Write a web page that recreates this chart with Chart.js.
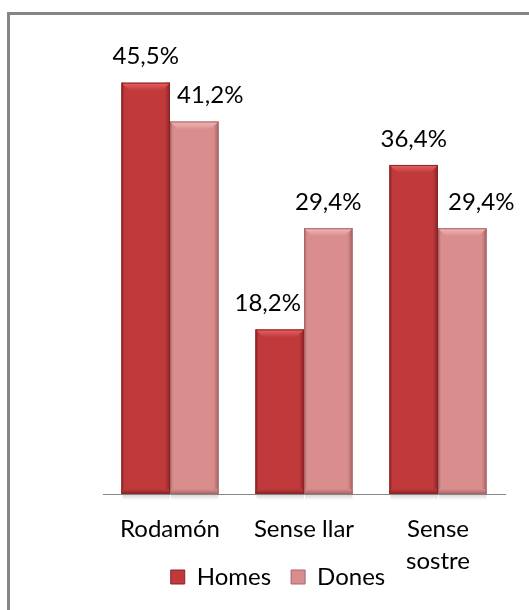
<!DOCTYPE html>
<html>
<head>
<meta charset="utf-8">
<title>Homes i dones</title>
<script src="https://cdn.jsdelivr.net/npm/chart.js@4.4.0/dist/chart.umd.min.js"></script>
<style>
    html, body { margin: 0; padding: 0; background: #fff; overflow: hidden; }
    #wrap { position: relative; width: 529px; height: 610px; overflow: hidden; }
    #frame { position: absolute; left: 7px; top: 12px; width: 600px; height: 700px; border: 3px solid #868686; }
    #chart { position: absolute; left: 0; top: 0; }
</style>
</head>
<body>
<div id="wrap">
    <div id="frame"></div>
    <canvas id="chart" width="529" height="660"></canvas>
</div>
<script>
// Dades del gràfic
var categories = ['Rodamón', 'Sense llar', ['Sense', 'sostre']];
var seriesNames = ['Homes', 'Dones'];
var homes = [45.5, 18.2, 36.4];
var dones = [41.2, 29.4, 29.4];
var yMax = 50;

// petit desplaçament horitzontal de les etiquetes (com a l'original)
var labelShift = [[0, -12, 0], [16, 0, 19]];

var fontFamily = 'Lato, "DejaVu Sans", sans-serif';
var fontSize = 24;

// colors: cos, clar (bisell de dalt), fosc (vores)
var palette = [
    { body: '#C0393B', light: '#E66363', dark: '#8A2325' },
    { body: '#D98D8D', light: '#F3B8B8', dark: '#A86566' }
];

function formatValue(v) {
    return v.toFixed(1).replace('.', ',') + '%';
}

// Bisell 3D de les barres, a sobre de les barres de Chart.js
var bevelPlugin = {
    id: 'bevel',
    afterDatasetsDraw: function (chart) {
        var c = chart.ctx;
        chart.data.datasets.forEach(function (ds, di) {
            var col = palette[di];
            chart.getDatasetMeta(di).data.forEach(function (bar) {
                var l = bar.x - bar.width / 2;
                var r = bar.x + bar.width / 2;
                var t = bar.y;
                var b = bar.base;
                var s = 8;
                c.save();
                // ombra sota la barra
                var gs = c.createLinearGradient(0, b, 0, b + 6);
                gs.addColorStop(0, 'rgba(0,0,0,0.18)');
                gs.addColorStop(1, 'rgba(0,0,0,0)');
                c.fillStyle = gs;
                c.fillRect(l + 1, b + 1, r - l - 1, 6);
                // vora dreta fosca
                var gr = c.createLinearGradient(r - 5, 0, r, 0);
                gr.addColorStop(0, col.body);
                gr.addColorStop(1, col.dark);
                c.fillStyle = gr;
                c.fillRect(r - 5, t, 5, b - t);
                // vora esquerra
                var gl = c.createLinearGradient(l, 0, l + 3, 0);
                gl.addColorStop(0, col.dark);
                gl.addColorStop(1, col.body);
                c.fillStyle = gl;
                c.fillRect(l, t, 3, b - t);
                // bisell de dalt clar
                var gt = c.createLinearGradient(0, t, 0, t + s);
                gt.addColorStop(0, col.light);
                gt.addColorStop(1, col.body);
                c.fillStyle = gt;
                c.beginPath();
                c.moveTo(l, t);
                c.lineTo(r, t);
                c.lineTo(r - s, t + s);
                c.lineTo(l + s, t + s);
                c.closePath();
                c.fill();
                // base fosca
                var gb = c.createLinearGradient(0, b - 5, 0, b);
                gb.addColorStop(0, col.body);
                gb.addColorStop(1, col.dark);
                c.fillStyle = gb;
                c.fillRect(l, b - 5, r - l, 5);
                // contorn
                c.strokeStyle = col.dark;
                c.lineWidth = 1;
                c.strokeRect(l + 0.5, t + 0.5, r - l - 1, b - t - 1);
                c.restore();
            });
        });
    }
};

// Etiquetes de valor a sobre de cada barra
var valueLabels = {
    id: 'valueLabels',
    afterDatasetsDraw: function (chart) {
        var c = chart.ctx;
        c.save();
        c.font = fontSize + 'px ' + fontFamily;
        c.fillStyle = '#000';
        c.textAlign = 'center';
        c.textBaseline = 'middle';
        chart.data.datasets.forEach(function (ds, di) {
            chart.getDatasetMeta(di).data.forEach(function (bar, i) {
                c.fillText(formatValue(ds.data[i]), bar.x + labelShift[di][i], bar.y - 26);
            });
        });
        c.restore();
    }
};

// La llegenda de l'original queda al costat de "sostre": la pugem una mica
var legendLift = {
    id: 'legendLift',
    afterLayout: function (chart) {
        var lg = chart.legend;
        if (lg) {
            lg.top -= 35;
            lg.bottom -= 35;
        }
    }
};

var ctx = document.getElementById('chart').getContext('2d');
var chart = new Chart(ctx, {
    type: 'bar',
    data: {
        labels: categories,
        datasets: [{
            label: seriesNames[0],
            data: homes,
            backgroundColor: palette[0].body,
            borderWidth: 0,
            categoryPercentage: 0.724,
            barPercentage: 1.0
        }, {
            label: seriesNames[1],
            data: dones,
            backgroundColor: palette[1].body,
            borderWidth: 0,
            categoryPercentage: 0.724,
            barPercentage: 1.0
        }]
    },
    options: {
        responsive: false,
        animation: false,
        layout: {
            padding: { left: 51, right: 24, top: 42, bottom: 26 }
        },
        scales: {
            x: {
                grid: { display: false, drawTicks: false },
                border: { display: true, color: '#868686', width: 1 },
                ticks: {
                    color: '#000',
                    font: { family: fontFamily, size: fontSize, lineHeight: 1.333 },
                    padding: 19,
                    maxRotation: 0,
                    autoSkip: false
                },
                afterFit: function (scale) { scale.height = 86; }
            },
            y: {
                min: 0,
                max: yMax,
                grid: { display: false },
                border: { display: false },
                ticks: { display: false },
                afterFit: function (scale) { scale.width = 52; }
            }
        },
        plugins: {
            legend: {
                position: 'bottom',
                labels: {
                    color: '#000',
                    font: { family: fontFamily, size: fontSize },
                    boxWidth: 14,
                    boxHeight: 14,
                    padding: 20,
                    generateLabels: function (chart) {
                        return chart.data.datasets.map(function (ds, i) {
                            return {
                                text: ds.label,
                                fillStyle: palette[i].body,
                                strokeStyle: palette[i].dark,
                                lineWidth: 1,
                                datasetIndex: i
                            };
                        });
                    }
                }
            },
            tooltip: { enabled: false }
        }
    },
    plugins: [bevelPlugin, valueLabels, legendLift]
});
</script>
</body>
</html>
